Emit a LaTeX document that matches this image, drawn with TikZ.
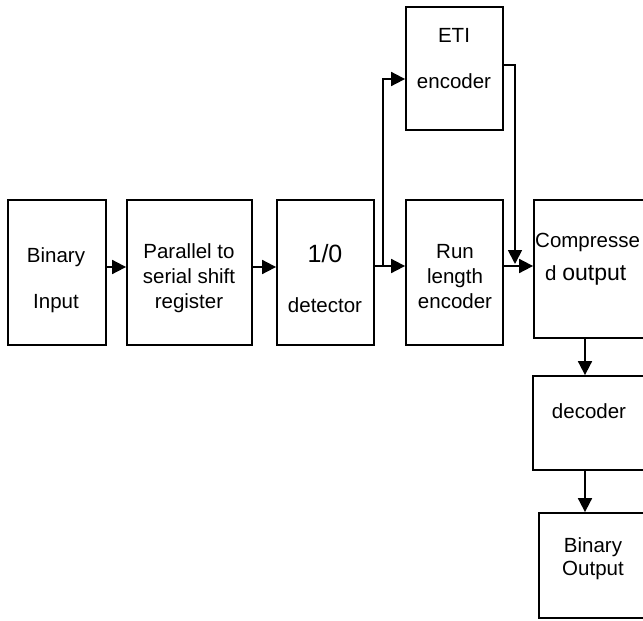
\documentclass[tikz,border=0pt]{standalone}
\usepackage{fontspec}
\setmainfont{Liberation Sans}
\usetikzlibrary{arrows.meta}

\begin{document}
\begin{tikzpicture}[x=1pt,y=-1pt,
  blk/.style={draw, line width=1.8pt, inner sep=0pt},
  arr/.style={line width=1.8pt, -{Triangle[length=14pt,width=14pt]}},
  txt/.style={anchor=base, align=center, inner sep=0pt, font=\fontsize{20.5}{25}\selectfont}]
\useasboundingbox (0,0) rectangle (643,621);
\clip (0,0) rectangle (643,621);

\node[blk, minimum width=98pt, minimum height=145pt] (bin) at (57,272.5) {};
\node[blk, minimum width=125pt, minimum height=145pt] (par) at (189.5,272.5) {};
\node[blk, minimum width=97pt, minimum height=145pt] (det) at (325.5,272.5) {};
\node[blk, minimum width=97pt, minimum height=145pt] (rle) at (454.5,272.5) {};
\node[blk, minimum width=97pt, minimum height=123pt] (eti) at (454.5,68.5) {};
\node[blk, minimum width=160pt, minimum height=138pt] (comp) at (614,269) {};
\node[blk, minimum width=160pt, minimum height=94pt] (dec) at (613,423) {};
\node[blk, minimum width=160pt, minimum height=105pt] (bout) at (619,565.5) {};

\node[txt] (binT) at (56,308) {Binary\\[21pt]Input};
\node[txt] (parT) at (189,308) {Parallel to\\serial shift\\register};
\node[txt, font=\fontsize{25}{30}\selectfont] (detA) at (325,262) {1/0};
\node[txt] (detB) at (325,312) {detector};
\node[txt] (rleT) at (455,308) {Run\\length\\encoder};
\node[txt] (etiT) at (454,88) {ETI\\[21pt]encoder};
\node[txt, anchor=base west] (compA) at (535,247) {Compresse};
\node[txt, anchor=base west] (compB) at (545,280) {d {\fontsize{23}{25}\selectfont output}};
\node[txt] (decT) at (589,418) {decoder};
\node[txt] (boutT) at (593,575) {Binary\\[-2pt]Output};

\coordinate (split) at (383,266);
\coordinate (etiIn) at (515,264);
\coordinate (vx) at (585,0);

\draw[arr] ([yshift=5.5pt]bin.east) -- ([yshift=5.5pt]par.west);
\draw[arr] ([yshift=5.5pt]par.east) -- ([yshift=5.5pt]det.west);
\draw[arr] ([yshift=6.5pt]det.east) -- ([yshift=6.5pt]rle.west);
\draw[arr] (split) |- ([yshift=-10.5pt]eti.west);
\draw[arr] ([yshift=6.5pt]rle.east) -- (comp.west |- split);
\draw[arr] ([yshift=3.5pt]eti.east) -| (etiIn);
\draw[arr] (comp.south -| vx) -- (dec.north -| vx);
\draw[arr] (dec.south -| vx) -- (bout.north -| vx);
\end{tikzpicture}
\end{document}
